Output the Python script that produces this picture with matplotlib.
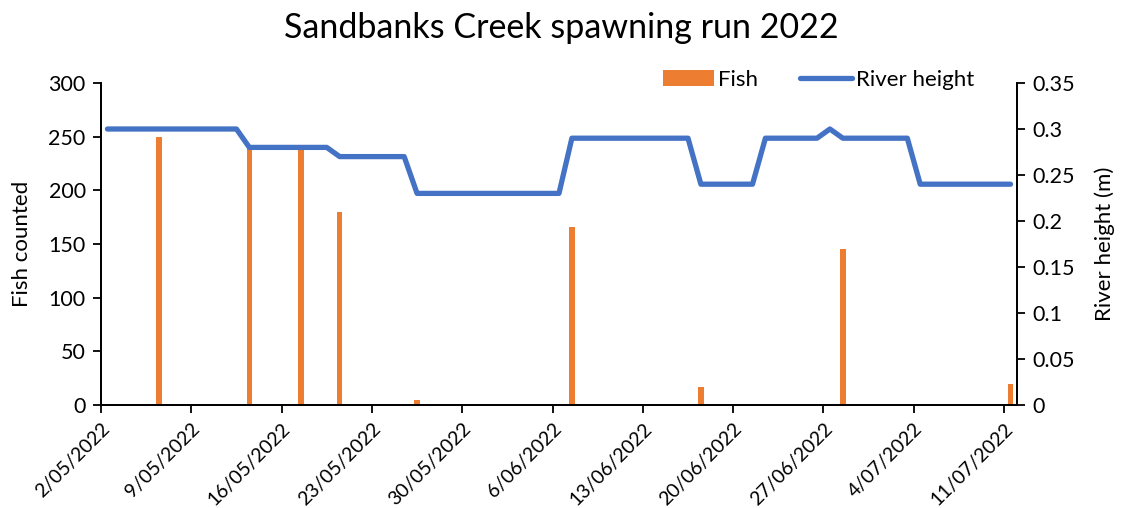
import pandas as pd
import matplotlib
matplotlib.use("Agg")
import matplotlib.pyplot as plt
import numpy as np

# DATA
fish_dates = ["2022-05-06", "2022-05-13", "2022-05-17", "2022-05-20", "2022-05-26",
              "2022-06-07", "2022-06-17", "2022-06-28", "2022-07-11"]
fish_counts = [250, 240, 240, 180, 5, 166, 17, 145, 20]

# daily river height readings, 2/05/2022 to 11/07/2022
river_start = "2022-05-02"
river_height = [0.30, 0.30, 0.30, 0.30, 0.30, 0.30, 0.30, 0.30, 0.30, 0.30, 0.30,
                0.28, 0.28, 0.28, 0.28, 0.28, 0.28, 0.28,
                0.27, 0.27, 0.27, 0.27, 0.27, 0.27,
                0.23, 0.23, 0.23, 0.23, 0.23, 0.23, 0.23, 0.23, 0.23, 0.23, 0.23, 0.23,
                0.29, 0.29, 0.29, 0.29, 0.29, 0.29, 0.29, 0.29, 0.29, 0.29,
                0.24, 0.24, 0.24, 0.24, 0.24,
                0.29, 0.29, 0.29, 0.29, 0.29,
                0.30,
                0.29, 0.29, 0.29, 0.29, 0.29, 0.29,
                0.24, 0.24, 0.24, 0.24, 0.24, 0.24, 0.24, 0.24]

tick_dates = ["2022-05-02", "2022-05-09", "2022-05-16", "2022-05-23", "2022-05-30",
              "2022-06-06", "2022-06-13", "2022-06-20", "2022-06-27", "2022-07-04",
              "2022-07-11"]

# STYLE
plt.rcParams['font.family'] = ['Lato', 'DejaVu Sans']
ORANGE = "#ED7D31"
BLUE = "#4472C4"
half_day = pd.Timedelta(hours=12)

fig = plt.figure(figsize=(11.22, 5.08), dpi=100)
ax = fig.add_axes([0.090, 0.2028, 0.8164, 0.6338])
ax2 = ax.twinx()

# bars sit in the middle of each day slot, like Excel's date axis
fx = pd.to_datetime(fish_dates) + half_day
bars = ax.bar(fx, fish_counts, width=0.42, color=ORANGE, label="Fish", zorder=2)

rx = pd.date_range(river_start, periods=len(river_height), freq="D") + half_day
line, = ax2.plot(rx, river_height, color=BLUE, linewidth=3.8,
                 solid_capstyle="round", solid_joinstyle="round", label="River height")

ax.set_zorder(1)
ax2.set_zorder(2)
ax2.patch.set_visible(False)

ax.set_xlim(pd.Timestamp("2022-05-02"), pd.Timestamp("2022-07-12"))
ticks = pd.to_datetime(tick_dates)
ax.set_xticks(ticks)
ax.set_xticklabels([f"{d.day}/{d.month:02d}/{d.year}" for d in ticks],
                   rotation=45, ha="right", rotation_mode="anchor", fontsize=14)

ax.set_ylim(0, 300)
ax.set_yticks(np.arange(0, 301, 50))
ax2.set_ylim(0, 0.35)
ax2.set_yticks([0, 0.05, 0.1, 0.15, 0.2, 0.25, 0.3, 0.35])
ax2.set_yticklabels(["0", "0.05", "0.1", "0.15", "0.2", "0.25", "0.3", "0.35"])

for a in (ax, ax2):
    a.spines["top"].set_visible(False)
    for s in a.spines.values():
        s.set_linewidth(1.3)
        s.set_color("#000000")
    a.tick_params(direction="out", length=6, width=1.3, labelsize=15.5, pad=5)
ax.tick_params(axis="x", labelsize=14, pad=5)

ax.set_ylabel("Fish counted", fontsize=16, labelpad=12)
ax2.set_ylabel("River height (m)", fontsize=16, labelpad=14)

fig.suptitle("Sandbanks Creek spawning run 2022", fontsize=24.5, y=0.945, va="center")

fig.legend(handles=[bars, line], labels=["Fish", "River height"], loc="center",
           bbox_to_anchor=(0.7295, 0.8425), ncol=2, frameon=False, fontsize=16,
           handlelength=2.3, handletextpad=0.2, columnspacing=1.9)

fig.savefig("out.png", dpi=100)
